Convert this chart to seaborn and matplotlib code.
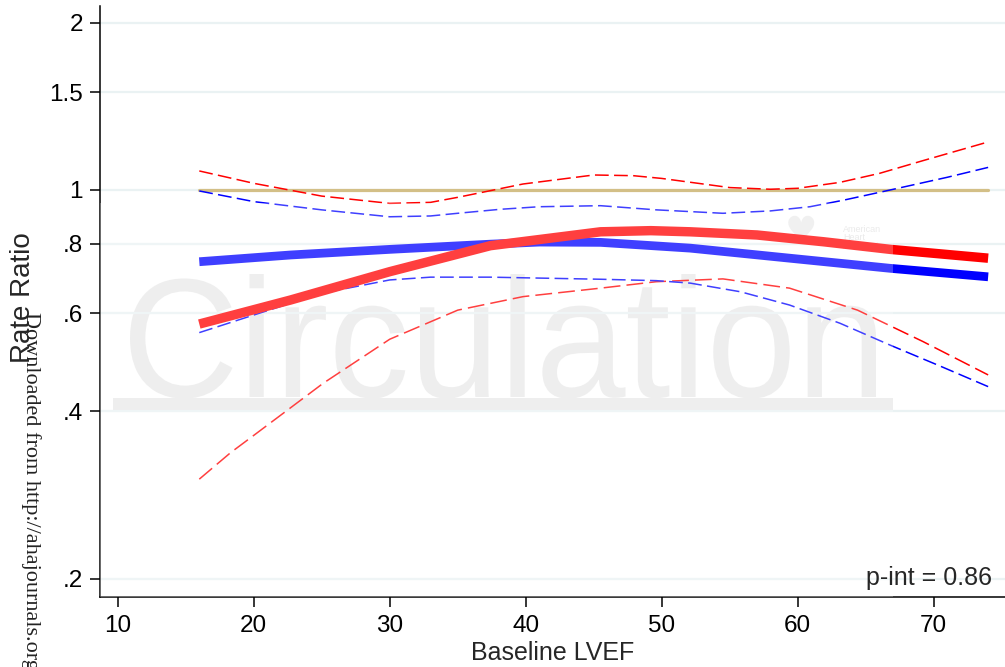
import numpy as np
import pandas as pd
import matplotlib
matplotlib.use("Agg")
import matplotlib.pyplot as plt
import matplotlib.patches as mpatches
from matplotlib.textpath import TextPath
from matplotlib.font_manager import FontProperties
from matplotlib.transforms import Affine2D
import seaborn as sns

# values (Baseline LVEF vs rate ratio)
lvef_blue = [16, 22.7, 30, 37.4, 41, 45.5, 52.1, 59.4, 66.8, 74]
rr_blue = [0.743, 0.764, 0.782, 0.799, 0.806, 0.805, 0.786, 0.754, 0.723, 0.698]

lvef_red = [16, 22.7, 30, 37.4, 45.5, 49.2, 52.1, 57, 61.9, 66.8, 74]
rr_red = [0.574, 0.634, 0.713, 0.794, 0.841, 0.845, 0.841, 0.830, 0.807, 0.782, 0.754]

lvef_blue_hi = [16, 20, 25, 30, 33, 35, 38.1, 41, 45.5, 49.6, 54.5, 58, 60.9, 63.4, 66.8, 71, 74]
rr_blue_hi = [0.996, 0.953, 0.921, 0.895, 0.898, 0.908, 0.923, 0.933, 0.937, 0.921,
              0.908, 0.917, 0.933, 0.959, 1.0, 1.054, 1.098]

lvef_blue_lo = [16, 20.2, 25, 30, 33, 37.4, 45.5, 49.6, 52.1, 55.8, 59.4, 63.1, 66.8, 70.5, 74]
rr_blue_lo = [0.554, 0.598, 0.652, 0.689, 0.697, 0.697, 0.691, 0.687, 0.680, 0.656,
              0.621, 0.576, 0.526, 0.482, 0.443]

lvef_red_hi = [16, 20, 25, 30, 33, 35, 39.8, 45, 47.9, 50, 55, 58, 60, 63.1, 66, 69.2, 74]
rr_red_hi = [1.082, 1.028, 0.975, 0.946, 0.950, 0.970, 1.025, 1.064, 1.061, 1.049,
             1.010, 1.003, 1.007, 1.032, 1.071, 1.129, 1.22]

lvef_red_lo = [16, 18.3, 20.2, 25.1, 30, 35, 39.8, 45.5, 49.6, 54.5, 59.4, 64.4, 69.2, 74]
rr_red_lo = [0.302, 0.337, 0.365, 0.449, 0.539, 0.608, 0.643, 0.666, 0.684, 0.692, 0.666,
             0.608, 0.534, 0.465]

lvef_ref = [16, 74]
rr_ref = [1, 1]

yticks = [0.2, 0.4, 0.6, 0.8, 1, 1.5, 2]
ytick_labels = [".2", ".4", ".6", ".8", "1", "1.5", "2"]
xticks = [10, 20, 30, 40, 50, 60, 70]

sns.set_style("ticks")
plt.rcParams['font.family'] = ['Liberation Sans', 'DejaVu Sans']

W, H = 1005, 667
fig = plt.figure(figsize=(W / 100, H / 100), dpi=100)
ax = fig.add_axes([100 / W, 70 / H, 905 / W, 591 / H])

ax.set_yscale("log")
ax.set_xlim(8.70, 75.24)
ax.set_ylim(0.1854, 2.142)

# "Circulation" watermark, fitted into its pixel box (x 130-876, cap top 274, baseline 397)
tp = TextPath((0, 0), "Circulation", size=1, prop=FontProperties(family='Liberation Sans'))
ext = tp.get_extents()
cap = TextPath((0, 0), "l", size=1, prop=FontProperties(family='Liberation Sans')).get_extents().ymax
sx = (876 - 130) / ext.width
sy = (397 - 274) / cap
wm_tr = Affine2D().translate(-ext.xmin, 0).scale(sx / W, sy / H).translate(130 / W, (H - 397) / H)
ax.add_artist(mpatches.PathPatch(tp, transform=wm_tr + fig.transFigure, color='#e9e9e9',
                                 lw=0, zorder=0.5, clip_on=False))
ax.add_patch(mpatches.Rectangle((13 / 905, (597 - 412) / 591), 780 / 905, 14 / 591,
                                transform=ax.transAxes, color='#e9e9e9', lw=0, zorder=0.5))
ax.text(0.775, (597 - 232) / 591, "\u2665", transform=ax.transAxes, fontsize=26,
        color='#ececec', family='DejaVu Sans', ha='center', va='center', zorder=0.5)
ax.text(0.821, (597 - 238) / 591, "American\nHeart\nAssociation", transform=ax.transAxes,
        fontsize=6.5, color='#e4e4e4', ha='left', va='center', linespacing=0.9, zorder=0.5)

for yt in yticks:
    ax.axhline(yt, color='#eaf2f3', lw=1.6, zorder=0.8)

sns.lineplot(x=lvef_ref, y=rr_ref, ax=ax, color='#d3bf87', lw=2.3, zorder=1)

dash = (0, (9, 3.5))
sns.lineplot(x=lvef_red_hi, y=rr_red_hi, ax=ax, color='#ff0000', lw=1.1, linestyle=dash, zorder=2)
sns.lineplot(x=lvef_red_lo, y=rr_red_lo, ax=ax, color='#ff0000', lw=1.1, linestyle=(0, (11, 4)), zorder=2)
sns.lineplot(x=lvef_blue_hi, y=rr_blue_hi, ax=ax, color='#0000ff', lw=1.1, linestyle=dash, zorder=2)
sns.lineplot(x=lvef_blue_lo, y=rr_blue_lo, ax=ax, color='#0000ff', lw=1.1, linestyle=dash, zorder=2)

sns.lineplot(x=lvef_blue, y=rr_blue, ax=ax, color='#0000ff', lw=6.3,
             solid_capstyle='butt', zorder=3)
sns.lineplot(x=lvef_red, y=rr_red, ax=ax, color='#ff0000', lw=6.8,
             solid_capstyle='butt', zorder=3)

# translucent watermark layer that lightens the curves
ax.add_patch(mpatches.Rectangle((0, 0), 793 / 905, (597 - 203) / 591, transform=ax.transAxes,
                                color='white', alpha=0.25, lw=0, zorder=4))

ax.set_yticks(yticks)
ax.set_yticklabels(ytick_labels)
ax.yaxis.set_minor_locator(matplotlib.ticker.NullLocator())
ax.set_xticks(xticks)
ax.tick_params(axis='both', labelsize=17.5, length=7.2, width=1.1, color='black',
               labelcolor='black', direction='out')
ax.tick_params(axis='y', pad=5)
ax.tick_params(axis='x', pad=6)

for side in ['top', 'right']:
    ax.spines[side].set_visible(False)
for side in ['left', 'bottom']:
    ax.spines[side].set_color('black')
    ax.spines[side].set_linewidth(1.1)

ax.set_ylabel("")
fig.text(23 / W, 1 - 297.5 / H, "Rate Ratio", rotation=90, fontsize=20,
         ha='center', va='center')
ax.set_xlabel("Baseline LVEF", fontsize=18)
ax.xaxis.set_label_coords(0.5, -0.0745)

ax.text(0.9856, 12 / 591, "p-int = 0.86", transform=ax.transAxes, fontsize=18,
        ha='right', va='baseline', zorder=5)

fig.text(31 / W, 1 - 312 / H, "Downloaded from http://ahajournals.org", rotation=-90,
         family='Liberation Serif', fontsize=16, color='#222222', ha='center', va='top')

fig.savefig("out.png", dpi=100)
